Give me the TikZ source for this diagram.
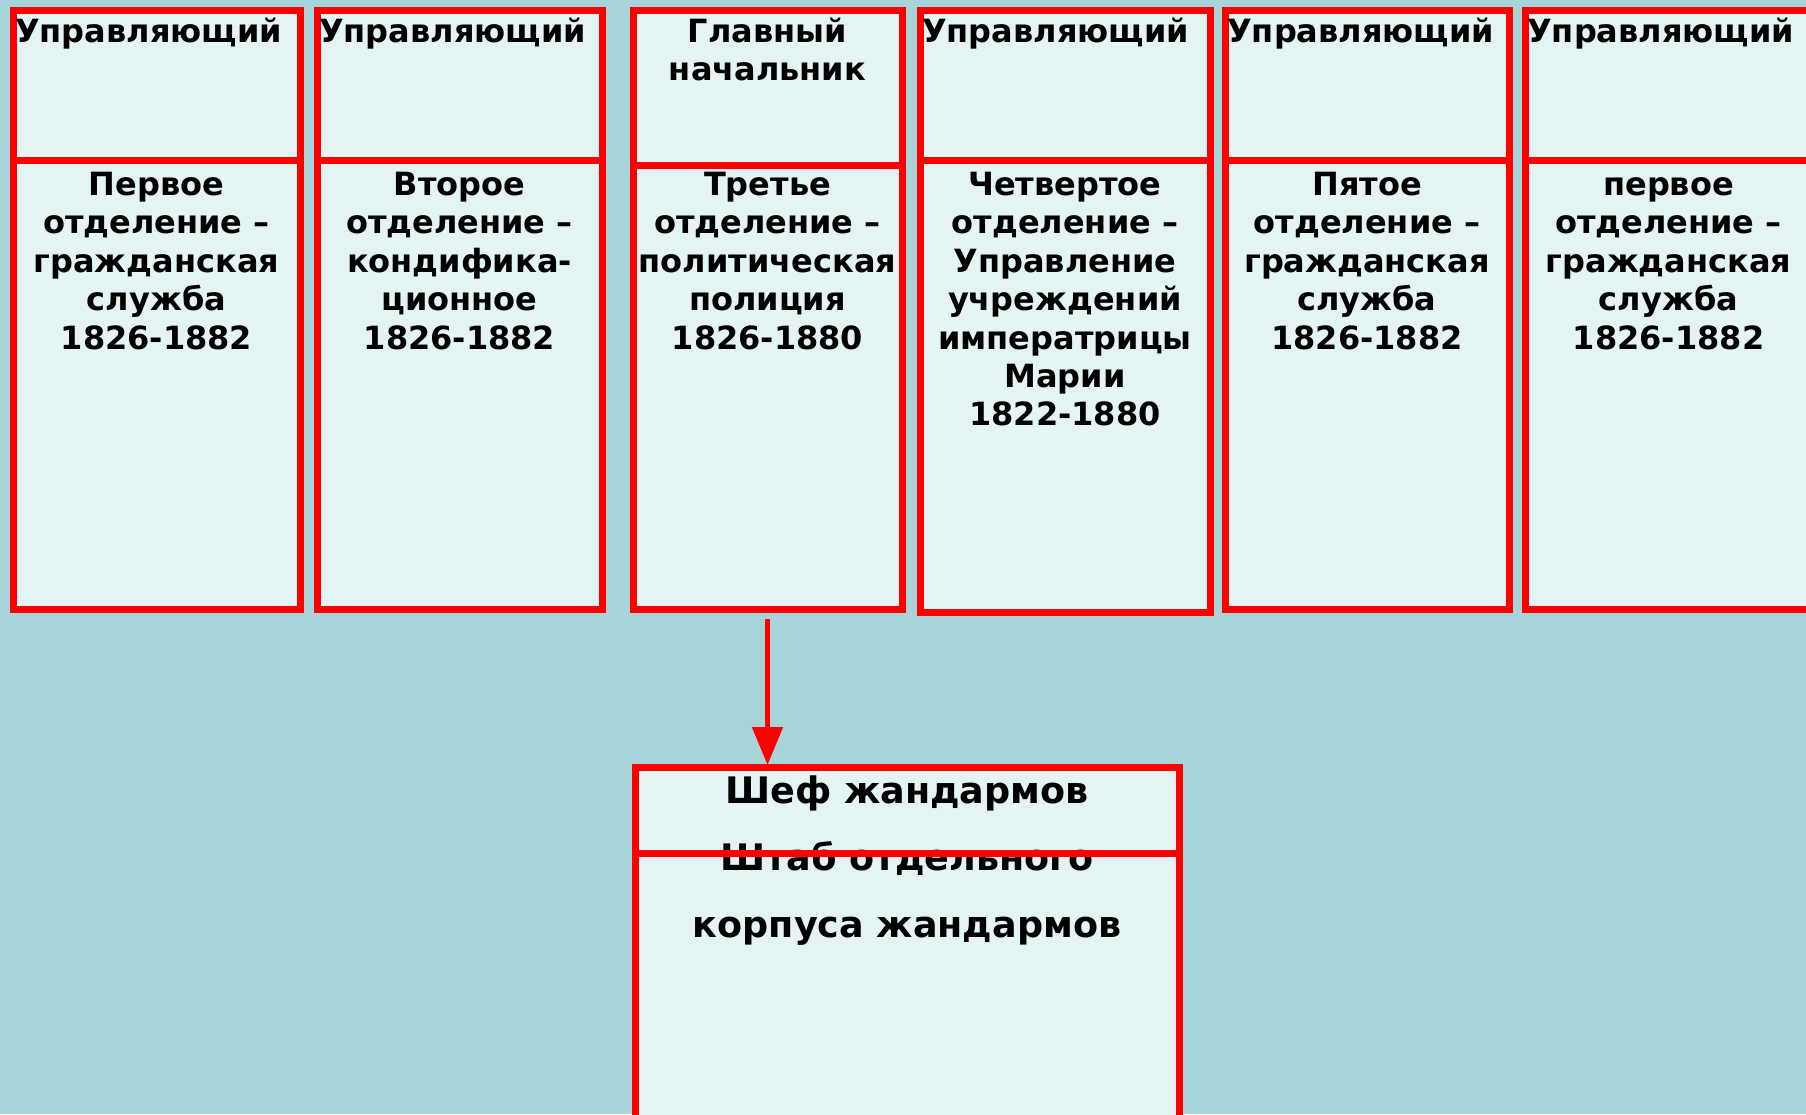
\documentclass[tikz,border=0pt]{standalone}
\usepackage{fontspec}
\newfontfamily\cellfont{DejaVu Sans}
\usetikzlibrary{positioning,arrows.meta}
\definecolor{sea}{RGB}{166,212,216}
\definecolor{pale}{RGB}{228,244,244}

\begin{document}
\begin{tikzpicture}[x=1pt,y=-1pt,
    cell/.style={draw=red,fill=pale,line width=7pt,inner sep=0pt,outer sep=0pt,anchor=north west},
    txt/.style={font=\cellfont\bfseries\fontsize{32}{38.4}\selectfont,align=center,inner sep=0pt},
    big/.style={font=\cellfont\bfseries\fontsize{36.5}{67}\selectfont,align=center,inner sep=0pt},
    arr/.style={draw=red,line width=5pt,-{Triangle[length=38pt,width=30pt]}}]
\clip (0,0) rectangle (1806,1114);
\fill[sea] (0,0) rectangle (1806,1114);

% top row
\node[cell,minimum width=287pt,minimum height=150pt] (headA) at (13,10) {};
\node[cell,minimum width=287pt,minimum height=449pt] (bodyA) at (13,160) {};
\node[cell,minimum width=285pt,minimum height=150pt] (headB) at (317,10) {};
\node[cell,minimum width=285pt,minimum height=449pt] (bodyB) at (317,160) {};
\node[cell,minimum width=269pt,minimum height=155pt] (headC) at (633,10) {};
\node[cell,minimum width=269pt,minimum height=444pt] (bodyC) at (633,165) {};
\node[cell,minimum width=290pt,minimum height=150pt] (headD) at (920,10) {};
\node[cell,minimum width=290pt,minimum height=452pt] (bodyD) at (920,160) {};
\node[cell,minimum width=284pt,minimum height=150pt] (headE) at (1225,10) {};
\node[cell,minimum width=284pt,minimum height=449pt] (bodyE) at (1225,160) {};
\node[cell,minimum width=287pt,minimum height=150pt] (headF) at (1525,10) {};
\node[cell,minimum width=287pt,minimum height=449pt] (bodyF) at (1525,160) {};

\node[txt,below right=5.4pt and 2pt of headA.north west] (chiefA) {\strut Управляющий};
\node[txt,below right=5.4pt and 2pt of headB.north west] (chiefB) {\strut Управляющий};
\node[txt,below=5.4pt of headC.north] (chiefC) {\strut Главный\\начальник};
\node[txt,below right=5.4pt and 2pt of headD.north west] (chiefD) {\strut Управляющий};
\node[txt,below right=5.4pt and 2pt of headE.north west] (chiefE) {\strut Управляющий};
\node[txt,below right=5.4pt and 2pt of headF.north west] (chiefF) {\strut Управляющий};

\node[txt,below=8.4pt of bodyA.north] (deptA) {\strut Первое\\отделение –\\гражданская\\служба\\1826-1882};
\node[txt,below=8.4pt of bodyB.north] (deptB) {\strut Второе\\отделение –\\кондифика-\\ционное\\1826-1882};
\node[txt,below=3.4pt of bodyC.north] (deptC) {\strut Третье\\отделение –\\политическая\\полиция\\1826-1880};
\node[txt,below=8.4pt of bodyD.north] (deptD) {\strut Четвертое\\отделение –\\Управление\\учреждений\\императрицы\\Марии\\1822-1880};
\node[txt,below=8.4pt of bodyE.north] (deptE) {\strut Пятое\\отделение –\\гражданская\\служба\\1826-1882};
\node[txt,below=8.4pt of bodyF.north] (deptF) {\strut первое\\отделение –\\гражданская\\служба\\1826-1882};

% gendarmes
\node[cell,minimum width=544pt,minimum height=86pt] (chief) at (635,767) {};
\node[cell,minimum width=544pt,minimum height=300pt] (staff) at (635,853) {};
\node[big,anchor=north] (corps) at ([yshift=10.4pt]chief.north) {\strut Шеф жандармов\\Штаб отдельного\\корпуса жандармов};
\draw[red,line width=7pt] (staff.north west) -- (staff.north east);

\draw[arr,shorten <=9.5pt,shorten >=2pt] (bodyC.south) -- (bodyC.south |- chief.north);
\end{tikzpicture}
\end{document}
